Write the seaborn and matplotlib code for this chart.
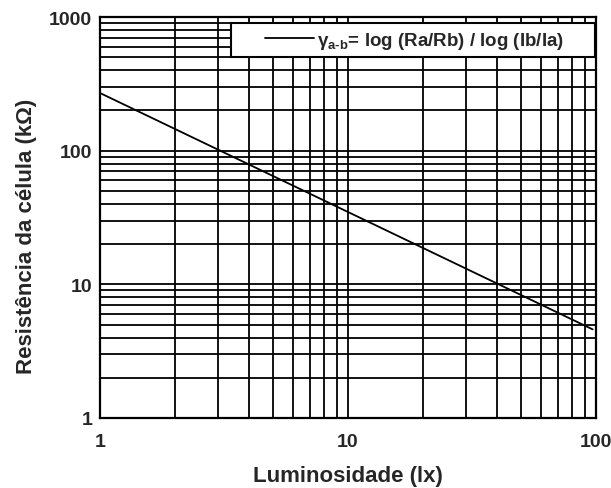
import matplotlib
matplotlib.use("Agg")
import matplotlib.pyplot as plt
import seaborn as sns
import pandas as pd
from matplotlib.ticker import LogLocator, FixedLocator, NullFormatter
from matplotlib.patches import Rectangle

luminosidade = [1, 97]
resistencia = [270, 4.6]
x_ticks = [1, 10, 100]
y_ticks = [1, 10, 100, 1000]
x_label = "Luminosidade (lx)"
y_label = "Resistência da célula (kΩ)"
legend_label = r"γ$_{\mathsf{a\text{-}b}}$= log (Ra/Rb) / log (Ib/Ia)"

sns.set_theme(style="white")
plt.rcParams['font.family'] = ['Liberation Sans', 'DejaVu Sans']
plt.rcParams['mathtext.fontset'] = 'custom'
plt.rcParams['mathtext.sf'] = 'Liberation Sans:bold'
plt.rcParams['mathtext.rm'] = 'Liberation Sans:bold'

df = pd.DataFrame({"x": luminosidade, "y": resistencia})

fig = plt.figure(figsize=(6.11, 4.89), dpi=100)
ax = fig.add_axes([100/611, 1-419/489, 496/611, 401/489])
ax.set_xscale("log")
ax.set_yscale("log")
ax.set_xlim(1, 100)
ax.set_ylim(1, 1000)

ax.xaxis.set_major_locator(FixedLocator(x_ticks))
ax.yaxis.set_major_locator(FixedLocator(y_ticks))
ax.set_xticklabels([str(v) for v in x_ticks])
ax.set_yticklabels([str(v) for v in y_ticks])
ax.xaxis.set_minor_locator(LogLocator(base=10, subs=range(2, 10)))
ax.yaxis.set_minor_locator(LogLocator(base=10, subs=range(2, 10)))
ax.xaxis.set_minor_formatter(NullFormatter())
ax.yaxis.set_minor_formatter(NullFormatter())
ax.grid(True, which="both", color="black", linewidth=1.3)
ax.tick_params(which="both", length=0)
ax.tick_params(axis="x", pad=10.5, labelsize=14)
ax.tick_params(axis="y", pad=5.5, labelsize=14)
for lab in ax.get_xticklabels() + ax.get_yticklabels():
    lab.set_fontweight("bold")
for s in ax.spines.values():
    s.set_color("black")
    s.set_linewidth(1.6)

sns.lineplot(data=df, x="x", y="y", ax=ax, color="black", linewidth=1.3, label=legend_label)

ax.set_xlabel(x_label, fontsize=16, fontweight="bold")
ax.set_ylabel(y_label, fontsize=16, fontweight="bold")
ax.xaxis.set_label_coords(0.5, (419-477)/401)
ax.xaxis.label.set_va("center")
ax.yaxis.set_label_coords((26-100)/496, (419-236)/401)
ax.yaxis.label.set_va("center")

# legend box
bx0 = (231-100)/496
by0 = (419-58)/401
ax.add_patch(Rectangle((bx0, by0), 1.0 - bx0 - 0.002, 34/401, transform=ax.transAxes,
                       facecolor="white", edgecolor="black", linewidth=1.5, zorder=5,
                       clip_on=False))
leg = ax.legend(loc="center", bbox_to_anchor=((414.5-100)/496, (419-41)/401),
                frameon=False, handlelength=2.6, handletextpad=0.2, borderpad=0,
                prop={"weight": "bold", "size": 13.5})
leg.set_zorder(6)

fig.savefig("out.png", dpi=100)
